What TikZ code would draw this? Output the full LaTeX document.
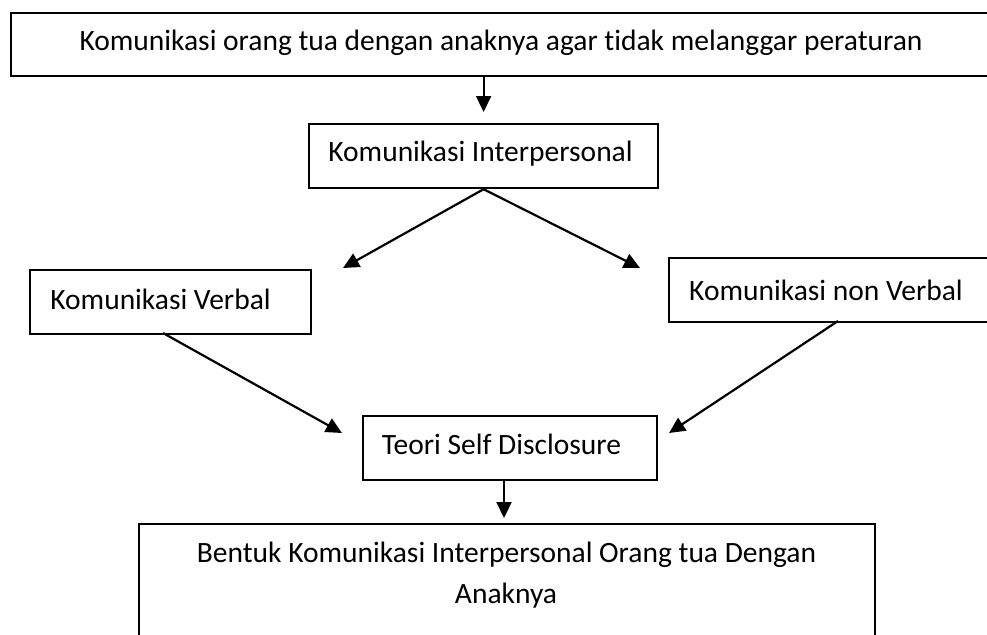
\documentclass[tikz,border=0pt]{standalone}
\usepackage{fontspec}
\setmainfont{Carlito}[Ligatures={NoCommon}]
\usetikzlibrary{arrows.meta}
\begin{document}
\begin{tikzpicture}[x=1pt,y=-1pt,
  box/.style={draw=black,line width=2.2pt,rectangle,anchor=north west,inner sep=0pt},
  lbl/.style={anchor=base,inner sep=0pt,font=\fontsize{29.5}{35}\selectfont},
  arr/.style={line width=2.2pt,-{Triangle[length=16pt,width=15pt]}}]
\useasboundingbox (0,0) rectangle (987,634);
\clip (0,0) rectangle (987,634);
\fill[white] (0,0) rectangle (987,634);
% boxes
\node[box,minimum width=1000pt,minimum height=63pt] (top) at (10,12) {};
\node[box,minimum width=349pt,minimum height=64pt] (interp) at (308,123) {};
\node[box,minimum width=281pt,minimum height=64pt] (verbal) at (29,269) {};
\node[box,minimum width=340pt,minimum height=64pt] (nonverbal) at (668,257) {};
\node[box,minimum width=294pt,minimum height=64pt] (selfd) at (362,415) {};
\node[box,minimum width=736pt,minimum height=140pt] (bottom) at (138,523) {};
% texts
\node[lbl] (ttop) at (501,50.5) {Komunikasi orang tua dengan anaknya agar tidak melanggar peraturan};
\node[lbl] (tinterp) at (480.5,161.7) {Komunikasi Interpersonal};
\node[lbl] (tverbal) at (160.5,309) {Komunikasi Verbal};
\node[lbl] (tnonverbal) at (826,300) {Komunikasi non Verbal};
\node[lbl] (tselfd) at (501.5,454) {Teori Self Disclosure};
\node[lbl] (tbottom1) at (506.5,562) {Bentuk Komunikasi Interpersonal Orang tua Dengan};
\node[lbl] (tbottom2) at (506,603) {Anaknya};
% arrow end points
\coordinate (tipL) at (343,268);
\coordinate (tipR) at (640,268);
\coordinate (tipV) at (342,433);
\coordinate (tipN) at (669,433);
\coordinate (startV) at (163,333);
\coordinate (startN) at (838,321);
% connectors
\draw[arr,shorten >=11pt] (interp.north |- top.south) -- (interp.north);
\draw[arr] (interp.south) -- (tipL);
\draw[arr] (interp.south) -- (tipR);
\draw[arr] (startV) -- (tipV);
\draw[arr] (startN) -- (tipN);
\draw[arr,shorten >=5pt] (selfd.south -| 504,0) -- (bottom.north -| 504,0);
\end{tikzpicture}
\end{document}
